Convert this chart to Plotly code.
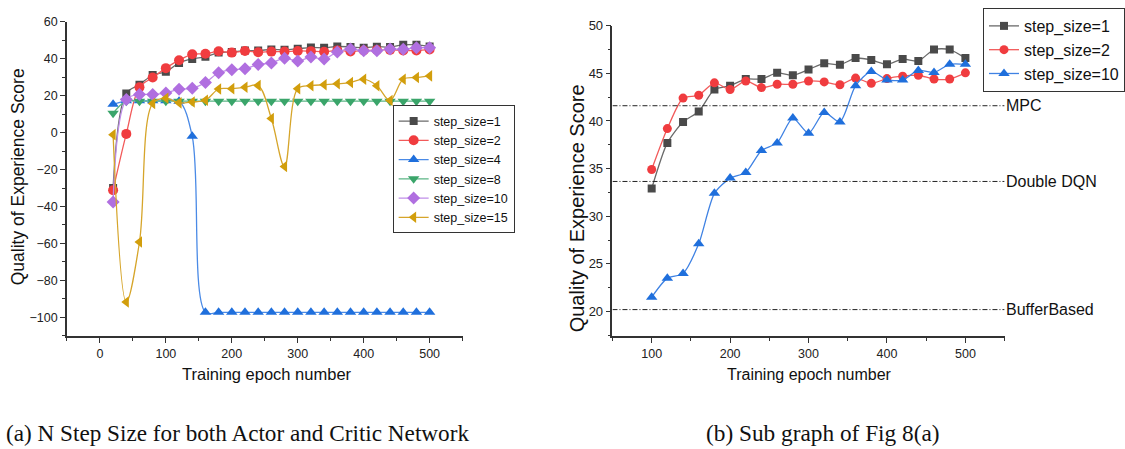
import plotly.graph_objects as go

# ---------------- data ----------------
epochs = [20, 40, 60, 80, 100, 120, 140, 160, 180, 200, 220, 240, 260,
          280, 300, 320, 340, 360, 380, 400, 420, 440, 460, 480, 500]

qoe_step1 = [-30.0, 21.2, 25.9, 31.2, 32.9, 37.7, 39.9, 41.0, 43.3, 43.7, 44.4, 44.4, 45.05,
             44.8, 45.4, 46.05, 45.9, 46.6, 46.4, 45.95, 46.5, 46.3, 47.5, 47.5, 46.6]
qoe_step2 = [-31.2, -0.7, 24.5, 29.8, 34.9, 39.2, 42.4, 42.7, 44.0, 43.3, 44.2, 43.5, 43.85,
             43.85, 44.2, 44.1, 43.8, 44.5, 43.95, 44.45, 44.7, 44.8, 44.4, 44.4, 45.05]
qoe_step4 = [15.3, 17.2, 17.2, 17.2, 17.2, 17.0, -2.0, -97.3, -97.3, -97.3, -97.3, -97.3, -97.3,
             -97.3, -97.3, -97.3, -97.3, -97.3, -97.3, -97.3, -97.3, -97.3, -97.3, -97.3, -97.3]
qoe_step8 = [10.5, 17.0, 17.0, 17.0, 17.0, 17.0, 17.0, 17.0, 17.0, 17.0, 17.0, 17.0, 17.0,
             17.0, 17.0, 17.0, 17.0, 17.0, 17.0, 17.0, 17.0, 17.0, 17.0, 17.0, 17.0]
qoe_step10 = [-37.6, 17.9, 20.6, 20.6, 21.5, 23.5, 24.0, 27.1, 32.4, 34.0, 34.6, 36.9, 37.7,
              40.3, 38.7, 40.9, 39.9, 43.7, 45.2, 44.3, 44.3, 45.3, 45.1, 45.95, 45.95]
qoe_step15 = [-1.1, -91.7, -59.2, 15.8, 18.6, 16.1, 16.6, 17.5, 23.6, 23.8, 24.5, 25.5, 7.6,
              -18.4, 23.8, 25.4, 25.9, 26.4, 27.1, 28.9, 25.4, 17.4, 28.9, 29.8, 30.7]

sub_start_epoch = 100
baseline_names = ["MPC", "Double DQN", "BufferBased"]
baseline_values = [41.6, 33.65, 20.2]

left_series_names = ["step_size=1", "step_size=2", "step_size=4", "step_size=8",
                     "step_size=10", "step_size=15"]
right_series_names = ["step_size=1", "step_size=2", "step_size=10"]

# ---------------- styles ----------------
W, H = 1125, 449
SANS = "Arial, Liberation Sans, sans-serif"
SERIF = "Times New Roman, Liberation Serif, serif"
AX = "#333333"

left_styles = [
    dict(mc="#4a4a4a", lc="#6a6a6a", sym="square", size=8),
    dict(mc="#f03c3f", lc="#f25a5a", sym="circle", size=10),
    dict(mc="#1f6fdc", lc="#4a8ae6", sym="triangle-up", size=10),
    dict(mc="#3aa56a", lc="#5bb585", sym="triangle-down", size=10),
    dict(mc="#b06fe0", lc="#bf8ee8", sym="diamond", size=10),
    dict(mc="#d29e0c", lc="#d6a52a", sym="triangle-left", size=10),
]
left_data = [qoe_step1, qoe_step2, qoe_step4, qoe_step8, qoe_step10, qoe_step15]

right_styles = [
    dict(mc="#4a4a4a", lc="#6a6a6a", sym="square", size=8),
    dict(mc="#f03c3f", lc="#f25a5a", sym="circle", size=9),
    dict(mc="#1f6fdc", lc="#3f82e3", sym="triangle-up", size=10),
]
i0 = epochs.index(sub_start_epoch)
sub_epochs = epochs[i0:]
right_data = [qoe_step1[i0:], qoe_step2[i0:], qoe_step10[i0:]]

fig = go.Figure()

for name, ys, st in zip(left_series_names, left_data, left_styles):
    fig.add_trace(go.Scatter(
        x=epochs, y=ys, name=name, mode="lines+markers",
        line=dict(color=st["lc"], width=1.3, shape="spline", smoothing=1.0),
        marker=dict(symbol=st["sym"], size=st["size"], color=st["mc"], line=dict(width=0)),
        xaxis="x", yaxis="y", legend="legend"))

for name, ys, st in zip(right_series_names, right_data, right_styles):
    fig.add_trace(go.Scatter(
        x=sub_epochs, y=ys, name=name, mode="lines+markers",
        line=dict(color=st["lc"], width=1.3, shape="spline", smoothing=0.7),
        marker=dict(symbol=st["sym"], size=st["size"], color=st["mc"], line=dict(width=0)),
        xaxis="x2", yaxis="y2", legend="legend2"))

def px_x(p):
    return p / W

def px_y(p):
    return 1 - p / H

common_axis = dict(showgrid=False, zeroline=False, showline=True, linecolor=AX, linewidth=1.5,
                   ticks="outside", ticklen=5, tickwidth=1.2, tickcolor=AX,
                   tickfont=dict(family=SANS, size=12.5, color="#222"))

shapes = []
annotations = []
for nm, val in zip(baseline_names, baseline_values):
    shapes.append(dict(type="line", xref="x2", yref="y2", x0=50, x1=550, y0=val, y1=val,
                       line=dict(color="#222", width=1, dash="5px,2px,1px,2px")))
    annotations.append(dict(xref="x2", yref="y2", x=550, y=val, text=nm, showarrow=False,
                            xanchor="left", yanchor="middle", xshift=-1,
                            font=dict(family=SANS, size=16, color="#111")))

annotations += [
    dict(xref="paper", yref="paper", x=px_x(267), y=px_y(373), text="Training epoch number",
         showarrow=False, xanchor="center", yanchor="middle",
         font=dict(family=SANS, size=16.5, color="#111")),
    dict(xref="paper", yref="paper", x=px_x(810), y=px_y(373), text="Training epoch number",
         showarrow=False, xanchor="center", yanchor="middle",
         font=dict(family=SANS, size=16, color="#111")),
    dict(xref="paper", yref="paper", x=px_x(18), y=px_y(172), text="Quality of Experience Score",
         showarrow=False, xanchor="center", yanchor="middle", textangle=-90,
         font=dict(family=SANS, size=17.5, color="#111")),
    dict(xref="paper", yref="paper", x=px_x(577), y=px_y(204), text="Quality of Experience Score",
         showarrow=False, xanchor="center", yanchor="middle", textangle=-90,
         font=dict(family=SANS, size=20, color="#111")),
    dict(xref="paper", yref="paper", x=px_x(237.5), y=px_y(433),
         text="(a) N Step Size for both Actor and Critic Network",
         showarrow=False, xanchor="center", yanchor="middle",
         font=dict(family=SERIF, size=23.2, color="#111")),
    dict(xref="paper", yref="paper", x=px_x(824), y=px_y(433),
         text="(b) Sub graph of Fig 8(a)",
         showarrow=False, xanchor="center", yanchor="middle",
         font=dict(family=SERIF, size=23.3, color="#111")),
]

fig.update_layout(
    width=W, height=H, margin=dict(l=0, r=0, t=0, b=0),
    paper_bgcolor="white", plot_bgcolor="white",
    font=dict(family=SANS, color="#222"),
    xaxis=dict(domain=[px_x(67), px_x(463)], range=[-50, 550], tick0=0, dtick=100,
               anchor="y", minor=dict(dtick=50, ticks="outside", ticklen=3, tickcolor=AX, tickwidth=1),
               **common_axis),
    yaxis=dict(domain=[px_y(334), px_y(15)], range=[-110, 60], tick0=0, dtick=20,
               anchor="x", minor=dict(dtick=10, ticks="outside", ticklen=3, tickcolor=AX, tickwidth=1),
               **common_axis),
    xaxis2=dict(domain=[px_x(613), px_x(1005.5)], range=[50, 550], tick0=0, dtick=100,
                anchor="y2", minor=dict(dtick=50, ticks="outside", ticklen=3, tickcolor=AX, tickwidth=1),
                **common_axis),
    yaxis2=dict(domain=[px_y(334), px_y(19)], range=[17.45, 50], tick0=0, dtick=5,
                anchor="x2", minor=dict(dtick=2.5, ticks="outside", ticklen=3, tickcolor=AX, tickwidth=1),
                **{**common_axis, "tickfont": dict(family=SANS, size=13, color="#222")}),
    legend=dict(x=px_x(393), y=px_y(100), xanchor="left", yanchor="top",
                bgcolor="white", bordercolor="#333", borderwidth=1,
                font=dict(family=SANS, size=12.5, color="#111"), tracegroupgap=0,
                itemwidth=30),
    legend2=dict(x=px_x(984), y=px_y(1), xanchor="left", yanchor="top",
                 bgcolor="white", bordercolor="#333", borderwidth=1,
                 font=dict(family=SANS, size=16, color="#111"), tracegroupgap=0,
                 itemwidth=30),
    shapes=shapes, annotations=annotations, showlegend=True,
)

fig.write_html("out.html")
